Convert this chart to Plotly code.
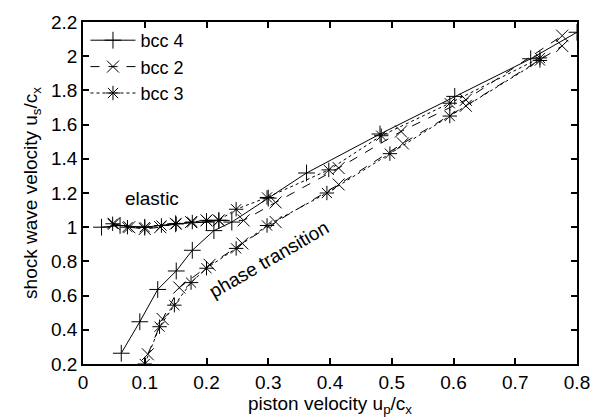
import plotly.graph_objects as go

# ---- data ----
# bcc 4 : elastic branch and phase-transition branch
bcc4_el_x = [0.03, 0.06, 0.10, 0.15, 0.20, 0.22]
bcc4_el_y = [1.00, 1.01, 1.00, 1.02, 1.03, 1.04]
bcc4_pt_x = [0.062, 0.092, 0.121, 0.151, 0.177, 0.212, 0.241, 0.30, 0.362, 0.481, 0.602, 0.725, 0.80]
bcc4_pt_y = [0.263, 0.447, 0.636, 0.744, 0.865, 0.98, 1.03, 1.17, 1.317, 1.545, 1.765, 1.985, 2.14]

# bcc 2
bcc2_el_x = [0.05, 0.075, 0.10, 0.125, 0.15, 0.175, 0.20, 0.22, 0.26, 0.312, 0.414, 0.515, 0.62, 0.776]
bcc2_el_y = [1.02, 1.00, 0.99, 1.00, 1.02, 1.03, 1.04, 1.04, 1.04, 1.145, 1.346, 1.56, 1.745, 2.12]
bcc2_pt_x = [0.105, 0.129, 0.156, 0.205, 0.258, 0.312, 0.414, 0.518, 0.62, 0.776]
bcc2_pt_y = [0.257, 0.463, 0.647, 0.78, 0.905, 1.03, 1.25, 1.49, 1.71, 2.06]

# bcc 3
bcc3_el_x = [0.048, 0.072, 0.10, 0.127, 0.151, 0.177, 0.20, 0.22, 0.248, 0.298, 0.398, 0.483, 0.594, 0.74]
bcc3_el_y = [1.02, 1.00, 1.00, 1.01, 1.02, 1.03, 1.04, 1.04, 1.105, 1.174, 1.335, 1.535, 1.725, 1.99]
bcc3_pt_x = [0.10, 0.124, 0.148, 0.175, 0.20, 0.248, 0.298, 0.395, 0.497, 0.594, 0.74]
bcc3_pt_y = [0.20, 0.418, 0.544, 0.676, 0.76, 0.876, 1.01, 1.20, 1.43, 1.65, 1.975]

x_ticks = [0, 0.1, 0.2, 0.3, 0.4, 0.5, 0.6, 0.7, 0.8]
y_ticks = [0.2, 0.4, 0.6, 0.8, 1.0, 1.2, 1.4, 1.6, 1.8, 2.0, 2.2]

FONT = "Liberation Sans"
FS = 19

series = [
    ("bcc 4", "solid", "cross-thin", bcc4_el_x, bcc4_el_y, bcc4_pt_x, bcc4_pt_y),
    ("bcc 2", "dash", "x-thin", bcc2_el_x, bcc2_el_y, bcc2_pt_x, bcc2_pt_y),
    ("bcc 3", "dot", "asterisk", bcc3_el_x, bcc3_el_y, bcc3_pt_x, bcc3_pt_y),
]

fig = go.Figure()
for name, dash, sym, ex, ey, px, py in series:
    for i, (xs, ys) in enumerate([(ex, ey), (px, py)]):
        fig.add_trace(go.Scatter(
            x=xs, y=ys, mode="lines+markers", name=name,
            legendgroup=name, showlegend=(i == 0),
            line=dict(color="black", width=1, dash=dash),
            marker=dict(symbol=sym, size=12, color="black",
                        line=dict(color="black", width=1)),
        ))

fig.add_annotation(x=0.111, y=1.165, text="elastic", showarrow=False,
                   font=dict(family=FONT, size=FS, color="black"))
fig.add_annotation(x=0.301, y=0.81, text="phase transition", showarrow=False,
                   textangle=-30, font=dict(family=FONT, size=FS, color="black"))

axis_common = dict(
    showline=True, mirror="ticks", linecolor="black", linewidth=1.5,
    ticks="inside", ticklen=6, tickwidth=1.5, tickcolor="black",
    showgrid=False, zeroline=False,
    tickfont=dict(family=FONT, size=FS, color="black"),
)

fig.update_layout(
    width=602, height=420,
    margin=dict(l=83, r=22, t=19, b=52),
    paper_bgcolor="white", plot_bgcolor="white",
    font=dict(family=FONT, size=FS, color="black"),
    xaxis=dict(range=[0, 0.8], tickvals=x_ticks,
               title=dict(text="piston velocity u<sub>p</sub>/c<sub>x</sub>",
                          standoff=2, font=dict(family=FONT, size=FS)),
               **axis_common),
    yaxis=dict(range=[0.2, 2.2], tickvals=y_ticks,
               title=dict(text="shock wave velocity u<sub>s</sub>/c<sub>x</sub>",
                          standoff=8, font=dict(family=FONT, size=FS)),
               **axis_common),
    legend=dict(x=0.005, y=1.0, xanchor="left", yanchor="top",
                bgcolor="rgba(0,0,0,0)", borderwidth=0,
                font=dict(family=FONT, size=18), tracegroupgap=0,
                itemwidth=45),
    showlegend=True,
)

fig.write_html("out.html")
